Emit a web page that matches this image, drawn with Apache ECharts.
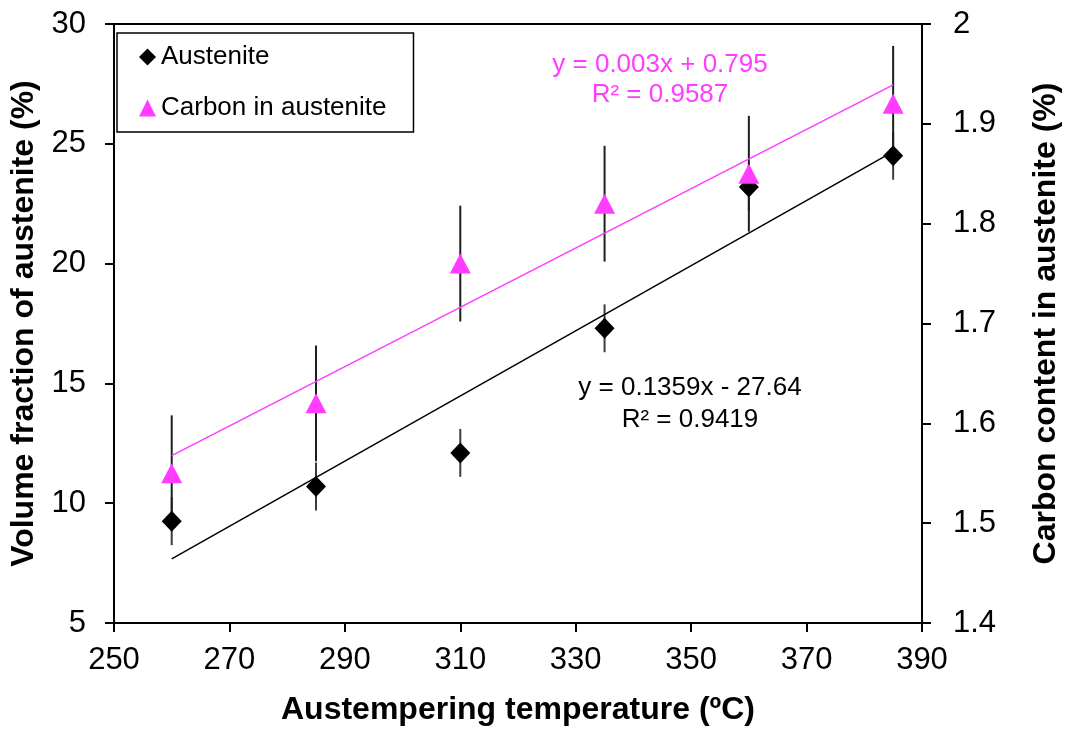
<!DOCTYPE html>
<html>
<head>
<meta charset="utf-8">
<script src="https://cdn.jsdelivr.net/npm/echarts@6/dist/echarts.min.js"></script>
<style>
  html, body { margin: 0; padding: 0; background: #fff; }
  #chart { width: 1070px; height: 731px; }
</style>
</head>
<body>
<div id="chart"></div>
<script>
// Austempering temperature (ºC)
const temperatures = [260, 285, 310, 335, 360, 385];
// Volume fraction of austenite (%) and its error
const austenite = [9.25, 10.7, 12.1, 17.3, 23.2, 24.5];
const austeniteErr = [1.0, 1.0, 1.0, 1.0, 1.0, 1.0];
// Carbon content in austenite (%) and its error
const carbon = [1.55, 1.62, 1.76, 1.82, 1.85, 1.92];
const carbonErr = [0.058, 0.058, 0.058, 0.058, 0.058, 0.058];

const xTicks = { min: 250, max: 390, interval: 20 };
const leftTicks = { min: 5, max: 30, interval: 5 };
const rightTicks = { min: 1.4, max: 2.0, interval: 0.1 };

const austeniteEq = ['y = 0.1359x - 27.64', 'R² = 0.9419'];
const carbonEq = ['y = 0.003x + 0.795', 'R² = 0.9587'];

const FONT = '"Liberation Sans", Arial, Helvetica, sans-serif';
const PINK = '#ff3cff';

// least-squares straight line through (xs, ys)
function linearFit(xs, ys) {
  const n = xs.length;
  const mx = xs.reduce((a, b) => a + b, 0) / n;
  const my = ys.reduce((a, b) => a + b, 0) / n;
  let sxy = 0, sxx = 0;
  for (let i = 0; i < n; i++) {
    sxy += (xs[i] - mx) * (ys[i] - my);
    sxx += (xs[i] - mx) * (xs[i] - mx);
  }
  const slope = sxy / sxx;
  const intercept = my - slope * mx;
  return x => slope * x + intercept;
}

function trendPoints(xs, ys) {
  const f = linearFit(xs, ys);
  const x0 = Math.min(...xs), x1 = Math.max(...xs);
  return [[x0, f(x0)], [x1, f(x1)]];
}

function errorData(xs, ys, errs) {
  return xs.map((x, i) => [x, ys[i] - errs[i], ys[i] + errs[i]]);
}

function errorBarSeries(data, yAxisIndex, color) {
  return {
    type: 'custom',
    yAxisIndex: yAxisIndex,
    silent: true,
    z: 1,
    data: data,
    renderItem: function (params, api) {
      const lo = api.coord([api.value(0), api.value(1)]);
      const hi = api.coord([api.value(0), api.value(2)]);
      return {
        type: 'line',
        shape: { x1: lo[0], y1: lo[1], x2: hi[0], y2: hi[1] },
        style: { stroke: color, lineWidth: 2 }
      };
    }
  };
}

const axisCommon = {
  axisLine: { show: true, onZero: false, lineStyle: { color: '#000', width: 2 } },
  axisTick: { show: true, inside: false, length: 9, lineStyle: { color: '#000', width: 2 } },
  splitLine: { show: false },
  nameLocation: 'middle',
  nameTextStyle: { fontFamily: FONT, fontSize: 32, fontWeight: 'bold', color: '#000' }
};

const tickLabel = { fontFamily: FONT, fontSize: 31, color: '#000' };

const chart = echarts.init(document.getElementById('chart'), null, { renderer: 'canvas' });

chart.setOption({
  animation: false,
  backgroundColor: '#fff',
  grid: {
    left: 114, right: 144, top: 24, bottom: 106,
    show: true, borderColor: '#000', borderWidth: 2, backgroundColor: 'transparent'
  },
  legend: {
    orient: 'vertical',
    left: 117, top: 33,
    padding: [9, 27, 9, 22],
    itemGap: 21,
    itemWidth: 17, itemHeight: 17,
    itemTextGap: 7,
    borderColor: '#000', borderWidth: 1.5,
    backgroundColor: '#fff',
    textStyle: { fontFamily: FONT, fontSize: 26, color: '#000', lineHeight: 30 },
    selectedMode: false,
    data: [
      { name: 'Austenite', icon: 'diamond', itemStyle: { color: '#000' } },
      { name: 'Carbon in austenite', icon: 'triangle', itemStyle: { color: PINK } }
    ]
  },
  xAxis: Object.assign({}, axisCommon, {
    type: 'value',
    min: xTicks.min, max: xTicks.max, interval: xTicks.interval,
    name: 'Austempering temperature (ºC)',
    nameGap: 71,
    axisLabel: Object.assign({ margin: 22 }, tickLabel)
  }),
  yAxis: [
    Object.assign({}, axisCommon, {
      type: 'value',
      position: 'left',
      min: leftTicks.min, max: leftTicks.max, interval: leftTicks.interval,
      name: 'Volume fraction of austenite (%)',
      nameRotate: 90,
      nameGap: 70,
      axisLabel: Object.assign({ margin: 28 }, tickLabel)
    }),
    Object.assign({}, axisCommon, {
      type: 'value',
      position: 'right',
      min: rightTicks.min, max: rightTicks.max, interval: rightTicks.interval,
      name: 'Carbon content in austenite (%)',
      nameRotate: 90,
      nameGap: 108,
      axisLabel: Object.assign({
        margin: 31,
        formatter: v => String(Math.round(v * 10) / 10)
      }, tickLabel)
    })
  ],
  series: [
    errorBarSeries(errorData(temperatures, austenite, austeniteErr), 0, '#3c3c3c'),
    errorBarSeries(errorData(temperatures, carbon, carbonErr), 1, '#1e1e1e'),
    {
      name: 'Austenite trend',
      type: 'line',
      yAxisIndex: 0,
      silent: true,
      showSymbol: false,
      z: 2,
      lineStyle: { color: '#000', width: 1.5 },
      data: trendPoints(temperatures, austenite)
    },
    {
      name: 'Carbon trend',
      type: 'line',
      yAxisIndex: 1,
      silent: true,
      showSymbol: false,
      z: 2,
      lineStyle: { color: PINK, width: 1.5 },
      data: trendPoints(temperatures, carbon)
    },
    {
      name: 'Austenite',
      type: 'scatter',
      yAxisIndex: 0,
      symbol: 'diamond',
      symbolSize: [20, 21],
      z: 3,
      itemStyle: { color: '#000', opacity: 1 },
      data: temperatures.map((t, i) => [t, austenite[i]])
    },
    {
      name: 'Carbon in austenite',
      type: 'scatter',
      yAxisIndex: 1,
      symbol: 'triangle',
      symbolSize: [21, 20],
      z: 4,
      itemStyle: { color: PINK, opacity: 1 },
      data: temperatures.map((t, i) => [t, carbon[i]])
    }
  ],
  graphic: [
    {
      type: 'text',
      x: 690, y: 404,
      style: {
        text: austeniteEq.join('\n'),
        fontFamily: FONT, fontSize: 26, lineHeight: 32,
        fill: '#000', align: 'center', verticalAlign: 'middle'
      }
    },
    {
      type: 'text',
      x: 660, y: 80,
      style: {
        text: carbonEq.join('\n'),
        fontFamily: FONT, fontSize: 26, lineHeight: 30,
        fill: PINK, align: 'center', verticalAlign: 'middle'
      }
    }
  ]
});
</script>
</body>
</html>
